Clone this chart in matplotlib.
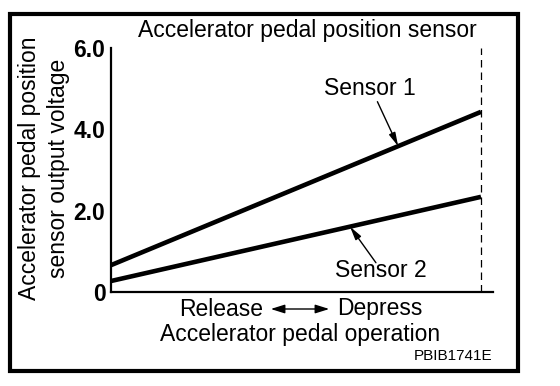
import matplotlib
matplotlib.use("Agg")
import matplotlib.pyplot as plt
from matplotlib.patches import Rectangle, FancyArrowPatch

# pedal travel (0 = released, 1 = fully depressed) and output voltages
pedal = [0.0, 1.0]
sensor1 = [0.66, 4.43]
sensor2 = [0.27, 2.34]
yticks = [0, 2, 4, 6]
ytick_labels = ["0", "2.0", "4.0", "6.0"]

plt.rcParams["font.family"] = ["Liberation Sans", "DejaVu Sans"]
FS = 16.5

fig = plt.figure(figsize=(5.6, 3.86), dpi=100)
ax = fig.add_axes([111 / 560, 1 - 292 / 386, 382 / 560, 244 / 386])

ax.plot(pedal, sensor1, color="black", lw=3.3, solid_capstyle="butt")
ax.plot(pedal, sensor2, color="black", lw=3.3, solid_capstyle="butt")
ax.axvline(pedal[1], color="black", lw=0.9, ls=(0, (6, 4)))

ax.set_xlim(0, 1.0324)
ax.set_ylim(0, 6)
ax.set_xticks([])
ax.set_yticks(yticks)
ax.set_yticklabels(ytick_labels, fontsize=FS, fontweight="bold")
ax.tick_params(axis="y", length=0, pad=4)
for s in ["top", "right"]:
    ax.spines[s].set_visible(False)
for s in ["left", "bottom"]:
    ax.spines[s].set_linewidth(1.6)


def on_line(vals, x):
    return vals[0] + x * (vals[1] - vals[0])


arrow = dict(arrowstyle="-|>,head_length=0.8,head_width=0.2",
             color="black", lw=1.0, shrinkA=0, shrinkB=0)
ax.text(0.70, 5.0, "Sensor 1", ha="center", va="center", fontsize=FS)
ax.annotate("", xy=(0.776, on_line(sensor1, 0.776)), xytext=(0.72, 4.68),
            arrowprops=arrow)
ax.text(0.73, 0.54, "Sensor 2", ha="center", va="center", fontsize=FS)
ax.annotate("", xy=(0.646, on_line(sensor2, 0.646)), xytext=(0.716, 0.72),
            arrowprops=arrow)

fig.text(307 / 560, 1 - 31 / 386, "Accelerator pedal position sensor",
         ha="center", va="center", fontsize=FS)
fig.text(30 / 560, 1 - 168 / 386, "Accelerator pedal position", rotation=90,
         ha="center", va="center", fontsize=FS)
fig.text(58 / 560, 1 - 168 / 386, "sensor output voltage", rotation=90,
         ha="center", va="center", fontsize=FS)

fig.text(263 / 560, 1 - 309 / 386, "Release", ha="right", va="center", fontsize=FS)
fig.text(337 / 560, 1 - 309 / 386, "Depress", ha="left", va="center", fontsize=FS)
fig.patches.append(FancyArrowPatch(
    (268 / 560, 1 - 309 / 386), (332 / 560, 1 - 309 / 386),
    transform=fig.transFigure, arrowstyle="<|-|>,head_length=0.7,head_width=0.22",
    color="black", lw=1.0, mutation_scale=12))
fig.text(300 / 560, 1 - 334 / 386, "Accelerator pedal operation",
         ha="center", va="center", fontsize=FS)
fig.text(453 / 560, 1 - 356 / 386, "PBIB1741E", ha="center", va="center", fontsize=11)

fig.patches.append(Rectangle((10 / 560, 1 - 371 / 386), 508 / 560, 357 / 386,
                             transform=fig.transFigure, fill=False,
                             edgecolor="black", lw=3.0))

fig.savefig("out.png", dpi=100)
